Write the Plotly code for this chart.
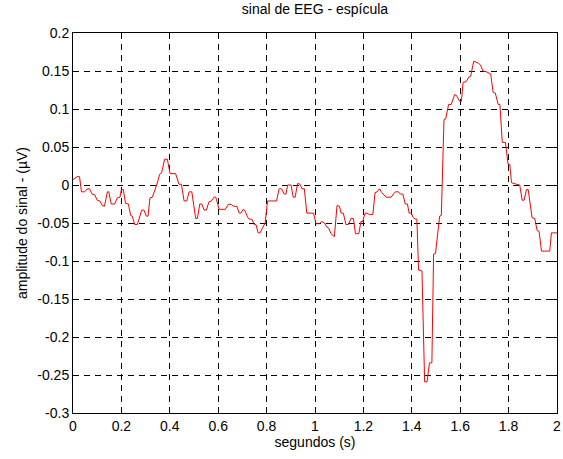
import plotly.graph_objects as go

t = [0.000, 0.017, 0.027, 0.035, 0.048, 0.059, 0.068, 0.079, 0.090, 0.100, 0.111, 0.121, 0.130,
     0.142, 0.148, 0.158, 0.172, 0.183, 0.194, 0.200, 0.208, 0.217, 0.229, 0.238, 0.245, 0.255,
     0.266, 0.284, 0.293, 0.303, 0.310, 0.318, 0.328, 0.339, 0.346, 0.358, 0.366, 0.379, 0.390,
     0.401, 0.424, 0.438, 0.448, 0.459, 0.470, 0.480, 0.491, 0.507, 0.514, 0.524, 0.532, 0.542,
     0.551, 0.562, 0.572, 0.583, 0.590, 0.604, 0.629, 0.643, 0.655, 0.663, 0.677, 0.687, 0.694,
     0.703, 0.711, 0.721, 0.728, 0.739, 0.749, 0.756, 0.765, 0.773, 0.787, 0.794, 0.804, 0.841,
     0.852, 0.862, 0.873, 0.880, 0.887, 0.901, 0.910, 0.918, 0.928, 0.938, 0.946, 0.956, 0.966,
     0.994, 1.004, 1.018, 1.028, 1.039, 1.048, 1.057, 1.066, 1.077, 1.080, 1.091, 1.101, 1.108,
     1.117, 1.128, 1.138, 1.149, 1.159, 1.167, 1.181, 1.190, 1.197, 1.207, 1.215, 1.225, 1.239,
     1.248, 1.257, 1.266, 1.276, 1.294, 1.315, 1.326, 1.333, 1.345, 1.353, 1.363, 1.373, 1.382,
     1.389, 1.398, 1.406, 1.415, 1.421, 1.428, 1.442, 1.453, 1.463, 1.473, 1.483, 1.490, 1.498,
     1.515, 1.522, 1.533, 1.540, 1.552, 1.563, 1.577, 1.584, 1.598, 1.605, 1.612, 1.625, 1.635,
     1.643, 1.656, 1.664, 1.676, 1.684, 1.694, 1.708, 1.718, 1.726, 1.736, 1.745, 1.757, 1.764,
     1.774, 1.787, 1.798, 1.805, 1.812, 1.819, 1.832, 1.846, 1.856, 1.864, 1.874, 1.881, 1.887,
     1.897, 1.908, 1.918, 1.926, 1.936, 1.970, 1.977, 2.000]

amplitude = [0.007, 0.011, 0.011, -0.009, -0.009, -0.005, -0.005, -0.012, -0.013, -0.020, -0.021,
             -0.027, -0.028, -0.009, -0.009, -0.025, -0.025, -0.017, -0.016, -0.006, -0.006, -0.024,
             -0.025, -0.040, -0.041, -0.052, -0.052, -0.033, -0.033, -0.041, -0.041, -0.017, -0.016,
             -0.006, 0.000, 0.014, 0.016, 0.034, 0.034, 0.015, 0.015, 0.001, 0.001, -0.021, -0.021,
             -0.009, -0.009, -0.044, -0.044, -0.025, -0.025, -0.033, -0.033, -0.022, -0.021, -0.016,
             -0.016, -0.032, -0.032, -0.025, -0.026, -0.028, -0.028, -0.037, -0.037, -0.032, -0.034,
             -0.042, -0.045, -0.045, -0.052, -0.052, -0.063, -0.063, -0.055, -0.050, -0.021, -0.021,
             -0.005, -0.005, -0.012, -0.012, 0.000, 0.000, -0.016, -0.016, 0.002, 0.001, -0.005,
             -0.005, -0.037, -0.037, -0.051, -0.051, -0.048, -0.050, -0.055, -0.057, -0.064, -0.068,
             -0.068, -0.027, -0.028, -0.037, -0.037, -0.052, -0.052, -0.044, -0.044, -0.064, -0.064,
             -0.048, -0.048, -0.037, -0.037, -0.039, -0.039, -0.010, -0.009, -0.005, -0.010, -0.016,
             -0.016, -0.011, -0.009, -0.009, -0.012, -0.012, -0.025, -0.025, -0.037, -0.037, -0.043,
             -0.045, -0.045, -0.112, -0.113, -0.259, -0.259, -0.234, -0.234, -0.091, -0.090, -0.041,
             -0.040, 0.086, 0.087, 0.106, 0.106, 0.119, 0.118, 0.110, 0.110, 0.135, 0.136, 0.142,
             0.143, 0.163, 0.162, 0.160, 0.158, 0.150, 0.149, 0.147, 0.146, 0.122, 0.121, 0.106,
             0.106, 0.056, 0.056, 0.027, 0.027, 0.003, 0.002, 0.001, 0.000, -0.020, -0.020, -0.006,
             -0.006, -0.023, -0.043, -0.044, -0.060, -0.061, -0.087, -0.087, -0.063, -0.063]

x_ticks = [0, 0.2, 0.4, 0.6, 0.8, 1, 1.2, 1.4, 1.6, 1.8, 2]
x_labels = ["0", "0.2", "0.4", "0.6", "0.8", "1", "1.2", "1.4", "1.6", "1.8", "2"]
y_ticks = [-0.3, -0.25, -0.2, -0.15, -0.1, -0.05, 0, 0.05, 0.1, 0.15, 0.2]
y_labels = ["-0.3", "-0.25", "-0.2", "-0.15", "-0.1", "-0.05", "0", "0.05", "0.1", "0.15", "0.2"]

fig = go.Figure()
fig.add_trace(go.Scatter(x=t, y=amplitude, mode="lines",
                         line=dict(color="#ff0000", width=1), showlegend=False))

font = dict(family="Liberation Sans, Arial, sans-serif", size=14, color="black")
axis_common = dict(showline=True, linecolor="black", linewidth=1, mirror="allticks",
                   ticks="inside", ticklen=5, tickcolor="black", automargin=False,
                   showgrid=True, gridcolor="black", gridwidth=1, griddash="6px,5px",
                   zeroline=False, tickfont=font)

fig.update_layout(
    width=563, height=459,
    margin=dict(l=73, r=6, t=33, b=46),
    paper_bgcolor="white", plot_bgcolor="white",
    font=font,
    title=dict(text="sinal de EEG - espícula", x=0.5, xref="paper", y=0.99, yanchor="top",
               font=dict(family="Liberation Sans, Arial, sans-serif", size=14, color="black")),
    xaxis=dict(range=[0, 2], tickvals=x_ticks, ticktext=x_labels,
               title=dict(text="segundos (s)", font=font, standoff=4), **axis_common),
    yaxis=dict(range=[-0.3, 0.2], tickvals=y_ticks, ticktext=y_labels,
               title=dict(text="amplitude do sinal - (µV)", font=font, standoff=6), **axis_common),
)

fig.write_html("out.html")
